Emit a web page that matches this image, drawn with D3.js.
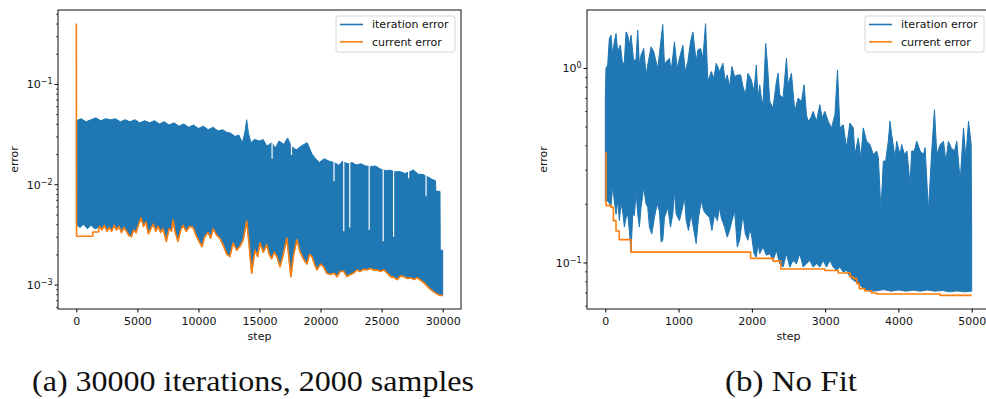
<!DOCTYPE html>
<html>
<head>
<meta charset="utf-8">
<script src="https://cdn.jsdelivr.net/npm/d3@7"></script>
<style>
  body { margin: 0; background: #fff; }
  text { font-family: "DejaVu Sans", sans-serif; fill: #111; }
</style>
</head>
<body>
<svg id="chart" width="986" height="399"></svg>
<script>
// ---------- data ----------
// panel (a): 30000 iterations, 2000 samples
const ticksA = [0, 5000, 10000, 15000, 20000, 25000, 30000];
// upper edge of the dense "iteration error" trace [step, error]
const iterHiA = [
  [0,0.043],[400,0.045],[800,0.042],[1200,0.044],[1600,0.046],[2000,0.043],[2400,0.045],[2800,0.044],
  [3200,0.045],[3600,0.042],[4000,0.044],[4400,0.042],[4800,0.044],[5200,0.041],[5600,0.043],[6000,0.041],
  [6400,0.043],[6800,0.040],[7200,0.042],[7600,0.039],[8000,0.041],[8400,0.038],[8800,0.040],[9200,0.037],
  [9600,0.039],[10000,0.036],[10400,0.038],[10800,0.035],[11200,0.037],[11600,0.034],[12000,0.035],
  [12300,0.033],[12600,0.0325],[13000,0.030],[13300,0.031],[13600,0.026],[13800,0.033],[13950,0.044],
  [14100,0.032],[14300,0.026],[14600,0.028],[15000,0.027],[15300,0.028],[15600,0.024],[16000,0.026],
  [16300,0.023],[16600,0.027],[17000,0.025],[17300,0.029],[17600,0.024],[18000,0.022],[18400,0.024],
  [18900,0.026],[19300,0.020],[19600,0.018],[19900,0.0165],[20300,0.018],[20700,0.017],[21100,0.0165],
  [21500,0.0155],[21800,0.017],[22200,0.016],[22600,0.0165],[22900,0.0156],[23300,0.016],[23700,0.0152],
  [24100,0.015],[24500,0.0152],[24900,0.0142],[25300,0.0137],[25700,0.0138],[26100,0.0133],[26500,0.0134],
  [26900,0.0128],[27200,0.0132],[27600,0.0139],[28000,0.0126],[28400,0.0125],[28800,0.0118],[29200,0.0111],
  [29400,0.0109],[29450,0.0085],[29780,0.0085],[29800,0.0022],[30000,0.0022]
];
// lower edge of the iteration error before the current error catches up with it
const iterLoStartA = [[0,0.0040],[300,0.0037],[600,0.0040],[900,0.0036],[1200,0.0039],[1500,0.0036],[1810,0.0037]];
// steps where the iteration error stays low (white gaps in the band) [step, error]
const iterGapsA = [
  [16030,0.018],[17620,0.0196],[21100,0.0107],[21900,0.0034],[22390,0.0037],[23980,0.0035],
  [25130,0.0027],[25980,0.0030],[27210,0.0115],[28640,0.0076]
];
// current error [step, error]
const currentA = [
  [0,0.40],[20,0.00303],[1340,0.00303],[1345,0.00334],[1810,0.00334],[1900,0.0038],[2100,0.0035],[2300,0.0039],
  [2500,0.0034],[2700,0.0037],[2900,0.0034],[3100,0.0039],[3300,0.0035],[3500,0.0038],[3700,0.0033],[3900,0.0037],
  [4100,0.0034],[4300,0.0031],[4500,0.0030],[4700,0.0035],[4900,0.0033],[5100,0.0040],[5300,0.0046],[5500,0.0038],
  [5700,0.0042],[5900,0.0032],[6100,0.0036],[6300,0.0040],[6500,0.0034],[6700,0.0038],[6900,0.0033],[7100,0.0036],
  [7370,0.0027],[7600,0.0036],[7800,0.0034],[7920,0.0044],[8100,0.0033],[8330,0.0027],[8550,0.0035],[8740,0.0039],
  [9000,0.0034],[9290,0.0038],[9560,0.0037],[9800,0.0031],[10110,0.0026],[10300,0.0024],[10500,0.0030],[10800,0.0033],
  [11000,0.0029],[11200,0.0036],[11500,0.0031],[11750,0.0029],[12000,0.0025],[12330,0.0020],[12580,0.0019],
  [12830,0.0026],[13130,0.0022],[13400,0.0024],[13670,0.0028],[13950,0.0043],[14150,0.0025],[14360,0.0013],
  [14630,0.0022],[14850,0.0019],[15040,0.0026],[15320,0.0021],[15590,0.0025],[15800,0.0020],[16000,0.0018],
  [16200,0.0021],[16420,0.0019],[16690,0.0015],[16950,0.0020],[17240,0.0029],[17400,0.0019],[17570,0.0012],
  [17800,0.0020],[18060,0.0028],[18330,0.0021],[18600,0.0018],[18880,0.0016],[19100,0.0020],[19290,0.0019],
  [19500,0.0016],[19700,0.0014],[20000,0.0016],[20250,0.0015],[20500,0.0013],[20800,0.00126],[21100,0.0013],
  [21350,0.0012],[21600,0.00135],[21890,0.00136],[22150,0.0012],[22440,0.00126],[22700,0.0013],[22990,0.0014],
  [23250,0.00135],[23530,0.00142],[23800,0.0014],[24080,0.00145],[24350,0.0014],[24630,0.0014],[24900,0.00135],
  [25180,0.0014],[25450,0.0013],[25730,0.0012],[26000,0.00118],[26280,0.00112],[26550,0.00122],[26820,0.0012],
  [27100,0.00115],[27370,0.00117],[27650,0.00112],[27920,0.00117],[28200,0.0011],[28470,0.00104],[28750,0.00096],
  [29020,0.00089],[29300,0.00084],[29570,0.0008],[29800,0.00078],[30000,0.00078]
];

// panel (b): No Fit
const ticksB = [0, 1000, 2000, 3000, 4000, 5000];
const iterHiB = [
  [0,0.70],[9,0.996],[32,1.036],[55,1.418],[78,1.474],[100,1.165],[123,1.363],[146,1.503],[169,1.212],[205,1.311],
  [237,1.036],[260,1.077],[283,1.533],[306,1.474],[328,1.311],[351,1.474],[388,1.077],[420,1.121],[442,1.564],
  [465,1.036],[488,1.165],[524,1.260],[556,0.921],[579,1.036],[625,1.285],[661,1.212],[693,1.077],[716,0.996],
  [739,1.188],[784,1.672],[807,1.036],[830,1.077],[876,1.121],[898,0.958],[944,1.363],[980,0.996],[1012,1.121],
  [1058,1.311],[1090,0.958],[1126,1.077],[1163,1.363],[1195,1.533],[1240,1.077],[1263,1.236],[1300,1.260],
  [1332,1.121],[1368,1.691],[1400,0.851],[1446,0.958],[1482,0.886],[1514,1.056],[1560,0.958],[1605,1.056],
  [1637,0.851],[1664,0.921],[1696,0.803],[1728,1.016],[1765,0.903],[1810,0.921],[1847,0.921],[1879,0.803],
  [1911,0.728],[1947,0.939],[1993,0.868],[2029,0.757],[2061,1.036],[2084,0.700],[2107,0.819],[2130,0.700],
  [2152,0.647],[2189,1.336],[2212,1.056],[2244,0.673],[2289,0.622],[2335,0.851],[2358,0.939],[2380,0.728],
  [2426,0.700],[2472,1.121],[2494,0.819],[2540,0.939],[2586,0.598],[2631,0.700],[2677,0.673],[2713,0.819],
  [2745,0.575],[2768,0.532],[2804,0.553],[2836,0.598],[2882,0.532],[2928,0.647],[2959,0.553],[2996,0.598],
  [3042,0.532],[3087,0.492],[3133,0.575],[3169,0.977],[3201,0.492],[3247,0.511],[3292,0.389],[3338,0.521],
  [3384,0.492],[3406,0.359],[3452,0.437],[3488,0.345],[3520,0.492],[3566,0.420],[3612,0.404],[3657,0.359],
  [3703,0.374],[3726,0.345],[3762,0.184],[3794,0.332],[3826,0.332],[3862,0.420],[3885,0.532],[3908,0.455],
  [3954,0.345],[3976,0.420],[4022,0.359],[4045,0.404],[4081,0.359],[4117,0.374],[4159,0.252],[4181,0.374],
  [4218,0.374],[4250,0.420],[4296,0.374],[4341,0.359],[4364,0.389],[4410,0.184],[4455,0.374],[4492,0.610],
  [4524,0.359],[4569,0.404],[4615,0.420],[4647,0.332],[4683,0.420],[4720,0.389],[4765,0.374],[4797,0.420],
  [4843,0.262],[4888,0.492],[4920,0.345],[4957,0.532],[4993,0.404],[5000,0.14]
];
const iterLoB = [
  [0,0.207],[32,0.207],[78,0.196],[100,0.247],[123,0.207],[146,0.177],[169,0.207],[192,0.164],[214,0.200],
  [237,0.184],[260,0.152],[283,0.170],[306,0.177],[328,0.146],[351,0.113],[374,0.177],[397,0.174],[420,0.233],
  [442,0.177],[465,0.152],[488,0.192],[524,0.243],[556,0.200],[579,0.192],[602,0.152],[634,0.140],[670,0.170],
  [707,0.200],[739,0.184],[762,0.127],[784,0.130],[807,0.170],[853,0.192],[889,0.152],[921,0.177],[944,0.233],
  [967,0.177],[1012,0.164],[1044,0.184],[1081,0.216],[1104,0.164],[1135,0.146],[1172,0.177],[1208,0.146],
  [1240,0.125],[1272,0.170],[1309,0.207],[1345,0.184],[1377,0.177],[1423,0.170],[1455,0.146],[1491,0.177],
  [1528,0.164],[1560,0.192],[1582,0.170],[1628,0.152],[1664,0.135],[1696,0.146],[1728,0.164],[1765,0.184],
  [1801,0.120],[1833,0.130],[1879,0.177],[1911,0.140],[1947,0.130],[1970,0.146],[1993,0.140],[2029,0.111],
  [2061,0.1065],[2084,0.125],[2107,0.111],[2152,0.120],[2198,0.109],[2244,0.111],[2289,0.1024],[2335,0.115],
  [2380,0.0985],[2426,0.0947],[2472,0.111],[2517,0.0947],[2563,0.1024],[2608,0.0985],[2654,0.111],[2700,0.0947],
  [2745,0.0985],[2791,0.1024],[2836,0.0947],[2882,0.0985],[2928,0.0947],[2973,0.1024],[3019,0.0947],[3064,0.1024],
  [3110,0.0947],[3156,0.0911],[3201,0.0947],[3247,0.0893],[3292,0.0911],[3338,0.0842],[3384,0.0810],[3429,0.0794],
  [3475,0.0763],[3520,0.0734],[3566,0.0720],[3612,0.0711],[3703,0.0715],[3800,0.0725],[3900,0.0712],[4000,0.0722],
  [4100,0.0712],[4200,0.0720],[4300,0.0712],[4400,0.0722],[4500,0.0712],[4600,0.0718],[4700,0.0706],[4800,0.0714],
  [4900,0.0706],[5000,0.0712]
];
const currentB = [
  [0,0.366],[10,0.196],[78,0.192],[110,0.164],[146,0.145],[190,0.131],[350,0.113],[1983,0.105],[2290,0.1016],
  [2394,0.0925],[2996,0.0910],[3178,0.0883],[3340,0.0842],[3384,0.0826],[3430,0.0778],[3466,0.0734],
  [3543,0.0716],[3635,0.0697],[3703,0.0688],[4570,0.0677],[5000,0.0677]
];

const seriesNames = ["iteration error", "current error"];
const captions = ["(a) 30000 iterations, 2000 samples", "(b) No Fit"];

// ---------- drawing ----------
const blue = "#1f77b4", orange = "#ff7f0e";
const axW = 403, axH = 299, axTop = 10;
const svg = d3.select("#chart");

function panel(o, idx) {
  const allY = o.hi.concat(o.lo, o.cur).map(d => d[1]);
  const allX = o.hi.concat(o.cur).map(d => d[0]);
  const xMax = d3.max(allX), xPad = xMax * 0.05;
  const x = d3.scaleLinear().domain([-xPad, xMax + xPad]).range([o.left, o.left + axW]);
  const lmin = Math.log10(d3.min(allY)), lmax = Math.log10(d3.max(allY)), pad = (lmax - lmin) * 0.05;
  const y = d3.scaleLog().domain([10 ** (lmin - pad), 10 ** (lmax + pad)]).range([axTop + axH, axTop]);

  const clipId = "clip" + idx;
  svg.append("clipPath").attr("id", clipId)
    .append("rect").attr("x", o.left).attr("y", axTop).attr("width", axW).attr("height", axH);
  const plot = svg.append("g").attr("clip-path", `url(#${clipId})`);

  // iteration error band: upper edge forward, lower edge back
  const line = d3.line().x(d => x(d[0])).y(d => y(d[1]));
  const upper = line(o.hi);
  const lower = line(o.lo.slice().reverse());
  plot.append("path")
    .attr("d", upper + "L" + lower.slice(1) + "Z")
    .attr("fill", blue).attr("stroke", blue).attr("stroke-width", 1).attr("stroke-linejoin", "round");

  // low-valued stretches leave white gaps in the band
  plot.selectAll(".gap").data(o.gaps || []).enter().append("line")
    .attr("x1", d => x(d[0])).attr("x2", d => x(d[0]))
    .attr("y1", d => y(d[1])).attr("y2", axTop)
    .attr("stroke", "#fff").attr("stroke-width", 1.2);

  plot.append("path")
    .attr("d", d3.line().curve(o.curve).x(d => x(d[0])).y(d => y(d[1]))(o.cur))
    .attr("fill", "none").attr("stroke", orange).attr("stroke-width", 1.6).attr("stroke-linejoin", "round");

  // axes
  const xAxis = d3.axisBottom(x).tickValues(o.ticks).tickSize(3.5).tickPadding(5).tickFormat(d3.format("d"));
  const gx = svg.append("g").attr("transform", `translate(0,${axTop + axH})`).call(xAxis);
  gx.select(".domain").remove();
  gx.selectAll("text").attr("font-size", 11).attr("font-family", "DejaVu Sans");

  const isPow = v => Math.abs(Math.log10(v) - Math.round(Math.log10(v))) < 1e-9;
  const majors = y.ticks().filter(isPow);
  const minors = y.ticks().filter(v => !isPow(v));

  const gyMinor = svg.append("g").attr("transform", `translate(${o.left},0)`)
    .call(d3.axisLeft(y).tickValues(minors).tickSize(2).tickFormat(() => ""));
  gyMinor.select(".domain").remove();
  gyMinor.selectAll("line").attr("stroke-width", 0.7);

  const gy = svg.append("g").attr("transform", `translate(${o.left},0)`)
    .call(d3.axisLeft(y).tickValues(majors).tickSize(3.5).tickFormat(() => ""));
  gy.select(".domain").remove();
  gy.selectAll(".tick text").remove();
  gy.selectAll(".tick").append("text")
    .attr("x", -5.5).attr("dy", "0.35em").attr("text-anchor", "end").attr("font-size", 11)
    .each(function (v) {
      const e = Math.round(Math.log10(v));
      const t = d3.select(this);
      t.append("tspan").text("10");
      t.append("tspan").attr("dy", "-0.5em").attr("font-size", 8).text(e < 0 ? "\u2212" + (-e) : String(e));
    });

  // frame
  svg.append("rect").attr("x", o.left).attr("y", axTop).attr("width", axW).attr("height", axH)
    .attr("fill", "none").attr("stroke", "#111").attr("stroke-width", 1);

  // axis labels
  svg.append("text").attr("x", o.left + axW / 2).attr("y", 340).attr("text-anchor", "middle")
    .attr("font-size", 11).text("step");
  svg.append("text").attr("transform", `translate(${o.left - 40},${axTop + axH / 2}) rotate(-90)`)
    .attr("text-anchor", "middle").attr("font-size", 11).text("error");

  // legend
  const lx = o.left + axW - 6 - 119, ly = axTop + 6;
  const lg = svg.append("g");
  lg.append("rect").attr("x", lx).attr("y", ly).attr("width", 119).attr("height", 36).attr("rx", 2.5)
    .attr("fill", "#fff").attr("fill-opacity", 0.8).attr("stroke", "#ccc").attr("stroke-width", 0.8);
  [blue, orange].forEach((c, i) => {
    const yy = ly + 8.5 + i * 17.3;
    lg.append("line").attr("x1", lx + 4).attr("x2", lx + 27).attr("y1", yy).attr("y2", yy)
      .attr("stroke", c).attr("stroke-width", 1.6);
    lg.append("text").attr("x", lx + 36).attr("y", yy).attr("dy", "0.35em").attr("font-size", 11)
      .text(seriesNames[i]);
  });

  // caption
  svg.append("text").attr("x", o.capX).attr("y", 391).attr("text-anchor", "middle")
    .attr("font-family", "Liberation Serif, serif").attr("font-size", 30)
    .attr("textLength", o.capW).attr("lengthAdjust", "spacingAndGlyphs")
    .style("font-family", "'Liberation Serif', serif")
    .text(captions[idx]);
}

panel({
  left: 58, ticks: ticksA,
  hi: iterHiA, lo: iterLoStartA.concat(currentA.filter(d => d[0] >= 1900)),
  gaps: iterGapsA, cur: currentA, curve: d3.curveLinear,
  capX: 253, capW: 442
}, 0);

panel({
  left: 587, ticks: ticksB,
  hi: iterHiB, lo: iterLoB, gaps: [], cur: currentB, curve: d3.curveStepAfter,
  capX: 791, capW: 132
}, 1);
</script>
</body>
</html>
